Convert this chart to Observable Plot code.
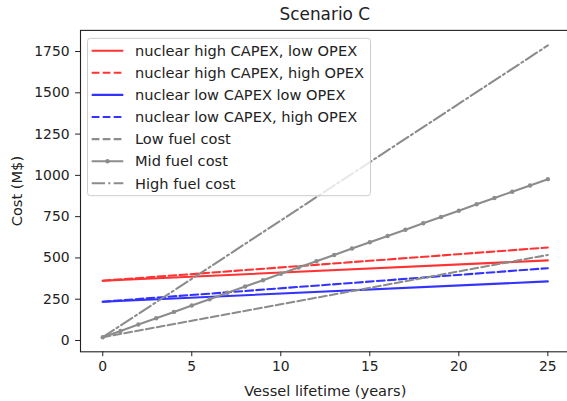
<!DOCTYPE html>
<html><head><meta charset="utf-8">
<script src="https://cdn.jsdelivr.net/npm/d3@7"></script>
<script src="https://cdn.jsdelivr.net/npm/@observablehq/plot@0.6"></script>
<style>
body{margin:0;background:#fff;font-family:"DejaVu Sans",sans-serif;}
#wrap{position:relative;width:567px;height:401px;overflow:hidden;background:#fff}
#title{position:absolute;left:80px;width:489.6px;top:0;height:24px;text-align:center;font-size:16.9px;line-height:16.9px;padding-top:6px;box-sizing:border-box;color:#222}
#chart{position:absolute;left:0;top:24px}
#legend{position:absolute;left:0;top:0}
svg{overflow:hidden}
</style></head>
<body><div id="wrap"><div id="title">Scenario C</div><div id="chart"></div><svg id="legend" width="567" height="401"></svg></div>
<script>
// ---- data ----
const years = [0,1,2,3,4,5,6,7,8,9,10,11,12,13,14,15,16,17,18,19,20,21,22,23,24,25];
const endYears = [0, 25];
const highCapexLowOpex = [362, 485];
const highCapexHighOpex = [362, 563];
const lowCapexLowOpex = [235, 358];
const lowCapexHighOpex = [235, 438];
const lowFuel = [20, 518];
const midFuel = [20, 58, 97, 135, 173, 212, 250, 289, 327, 365, 404, 442, 480, 518, 557, 595, 633, 671, 710, 748, 786, 825, 863, 901, 939, 977];
const highFuel = [20, 1787];
const xTicks = [0, 5, 10, 15, 20, 25];
const yTicks = [0, 250, 500, 750, 1000, 1250, 1500, 1750];
const seriesNames = ["nuclear high CAPEX, low OPEX","nuclear high CAPEX, high OPEX","nuclear low CAPEX low OPEX","nuclear low CAPEX, high OPEX","Low fuel cost","Mid fuel cost","High fuel cost"];

const RED = "#ff3333", BLUE = "#3333ff", GREY = "#8c8c8c";
const LW = 2.08;
const DASH = "7.7,3.3", DASHDOT = "13.3,3.3,2.1,3.3";
const styles = [
  {stroke: RED, dash: null, x: endYears, y: highCapexLowOpex},
  {stroke: RED, dash: DASH, x: endYears, y: highCapexHighOpex},
  {stroke: BLUE, dash: null, x: endYears, y: lowCapexLowOpex},
  {stroke: BLUE, dash: DASH, x: endYears, y: lowCapexHighOpex},
  {stroke: GREY, dash: DASH, x: endYears, y: lowFuel},
  {stroke: GREY, dash: null, x: years, y: midFuel, marker: true},
  {stroke: GREY, dash: DASHDOT, x: endYears, y: highFuel}
];

const lineMarks = styles.map(s => Plot.line(s.x.map((d, i) => ({x: d, y: s.y[i]})), {
  x: "x", y: "y", stroke: s.stroke, strokeWidth: LW, strokeDasharray: s.dash || undefined
}));
const midData = years.map((d, i) => ({x: d, y: midFuel[i]}));

const plot = Plot.plot({
  width: 567, height: 377,
  marginLeft: 80, marginRight: -2.6, marginTop: 5.9, marginBottom: 49.7,
  style: {fontFamily: "DejaVu Sans", fontSize: "13.9px", color: "#222", background: "white"},
  x: {domain: [-1.25, 26.25]},
  y: {domain: [-68.5, 1878]},
  marks: [
    ...lineMarks,
    Plot.dot(midData, {x: "x", y: "y", r: 2.2, fill: GREY, stroke: "none"}),
    Plot.frame({stroke: "#222", strokeWidth: 1.1}),
    Plot.axisX({ticks: xTicks, tickSize: 4.9, tickPadding: 4, tickFormat: d => String(d), stroke: "#222", fontSize: 13.9, label: null}),
    Plot.axisX({ticks: [], tickSize: 0, label: "Vessel lifetime (years)", labelAnchor: "center", labelArrow: "none", labelOffset: 44, fontSize: 14.6}),
    Plot.axisY({ticks: yTicks, tickSize: 4.9, tickPadding: 6, tickFormat: d => String(d), stroke: "#222", fontSize: 13.9, label: null}),
    Plot.axisY({ticks: [], tickSize: 0, label: "Cost (M$)", labelAnchor: "center", labelArrow: "none", labelOffset: 69, fontSize: 14.6})
  ]
});
document.getElementById("chart").appendChild(plot);

// ---- legend ----
const lg = d3.select("#legend");
lg.append("rect").attr("x", 87.5).attr("y", 38.3).attr("width", 283).attr("height", 157.4)
  .attr("rx", 3).attr("fill", "white").attr("fill-opacity", 0.8).attr("stroke", "#cccccc").attr("stroke-width", 1);
const rowY0 = 50.7, rowDy = 22.1;
styles.forEach((s, i) => {
  const y = rowY0 + i * rowDy;
  lg.append("line").attr("x1", 91.7).attr("x2", 123.3).attr("y1", y).attr("y2", y)
    .attr("stroke", s.stroke).attr("stroke-width", LW).attr("stroke-dasharray", s.dash);
  if (s.marker) lg.append("circle").attr("cx", 107.5).attr("cy", y).attr("r", 2.2).attr("fill", s.stroke);
  lg.append("text").attr("x", 135).attr("y", y).attr("dy", "0.36em")
    .attr("font-family", "DejaVu Sans").attr("font-size", 14.6).attr("fill", "#222").text(seriesNames[i]);
});
</script></body></html>
